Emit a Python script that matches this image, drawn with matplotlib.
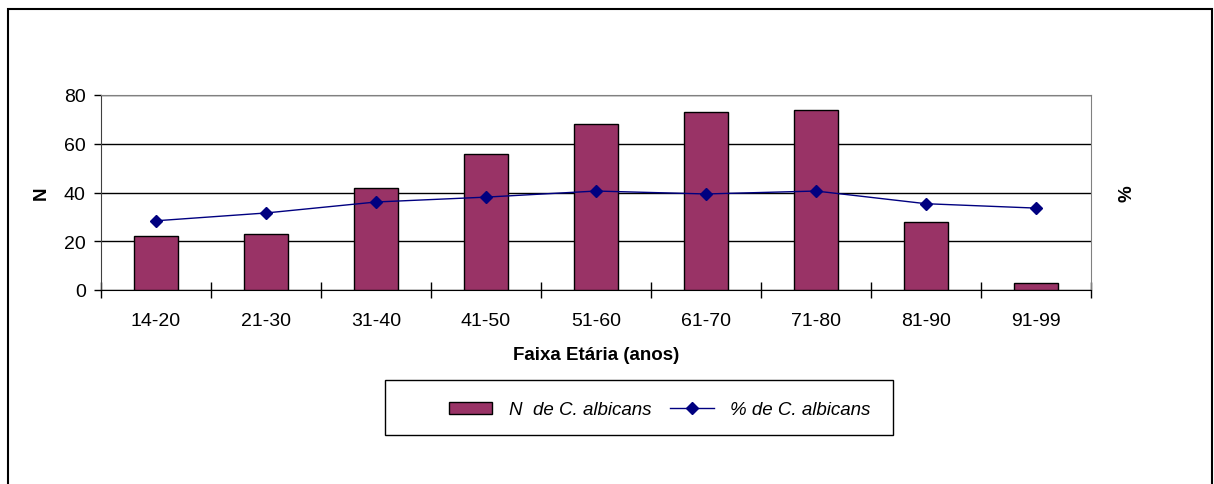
import matplotlib
matplotlib.use("Agg")
import matplotlib.pyplot as plt
from matplotlib.patches import Rectangle
import numpy as np

plt.rcParams['font.family'] = ['Liberation Sans', 'DejaVu Sans']

# Age groups and values
faixas = ["14-20", "21-30", "31-40", "41-50", "51-60", "61-70", "71-80", "81-90", "91-99"]
n_albicans = [22, 23, 42, 56, 68, 73, 74, 28, 3]
pct_albicans = [28.4, 31.6, 36.1, 38.1, 40.6, 39.4, 40.6, 35.4, 33.6]
y_ticks = [0, 20, 40, 60, 80]

bar_color = "#993366"
line_color = "#000080"

fig = plt.figure(figsize=(12.14, 4.85), dpi=100)
ax = fig.add_axes([101 / 1214, 1 - 291 / 485, 990 / 1214, 195 / 485])

x = np.arange(len(faixas))
ax.set_axisbelow(True)
ax.bar(x, n_albicans, width=0.4, color=bar_color, edgecolor="black", linewidth=1,
       zorder=3, label="N  de C. albicans")
ax.set_xlim(-0.5, len(faixas) - 0.5)
ax.set_ylim(0, 80)
ax.set_yticks(y_ticks)
ax.yaxis.grid(True, color="black", linewidth=1)
ax.tick_params(axis="y", labelsize=14, length=5, width=1, pad=6)

# category boundary ticks on the x axis, labels centred under bars
ax.set_xticks(np.arange(len(faixas) + 1) - 0.5)
ax.set_xticklabels([])
ax.set_xticks(x, minor=True)
ax.set_xticklabels(faixas, minor=True)
ax.tick_params(axis="x", which="major", direction="inout", length=12, width=1)
ax.tick_params(axis="x", which="minor", length=0, labelsize=14, pad=16)

for side in ("top", "right"):
    ax.spines[side].set_color("#808080")
ax.spines["left"].set_color("#404040")
ax.spines["bottom"].set_color("black")

ax.set_xlabel("Faixa Etária (anos)", fontsize=13.5, fontweight="bold", labelpad=12)
ax.set_ylabel("N", fontsize=13.5, fontweight="bold", labelpad=10)

# percentage series on a secondary axis with the same scale
ax2 = ax.twinx()
ax2.set_ylim(0, 80)
ax2.set_yticks([])
ax2.plot(x, pct_albicans, color=line_color, linewidth=1, marker="D", markersize=6,
         label="% de C. albicans", zorder=4)
ax2.set_ylabel("%", fontsize=13.5, fontweight="bold", labelpad=20)
for side in ("top", "right", "left", "bottom"):
    ax2.spines[side].set_visible(False)

# legend with its own frame
fig.patches.append(Rectangle((385 / 1214, 1 - 436 / 485), 508 / 1214, 55 / 485,
                             transform=fig.transFigure, fill=False,
                             edgecolor="black", linewidth=1))
handles = [ax.containers[0].patches[0], ax2.lines[0]]
labels = ["N  de C. albicans", "% de C. albicans"]
leg = fig.legend(handles, labels, loc="center", bbox_to_anchor=(660 / 1214, 1 - 411 / 485),
                 ncol=2, frameon=False, handlelength=2.3, handleheight=0.6,
                 handletextpad=0.9, columnspacing=1.0,
                 prop={"style": "italic", "size": 13.5})

# outer chart border
fig.patches.append(Rectangle((8 / 1214, -0.1), 1204 / 1214, 1.1 - 10 / 485,
                             transform=fig.transFigure, fill=False,
                             edgecolor="black", linewidth=1.5))

fig.savefig("out.png", dpi=100)
